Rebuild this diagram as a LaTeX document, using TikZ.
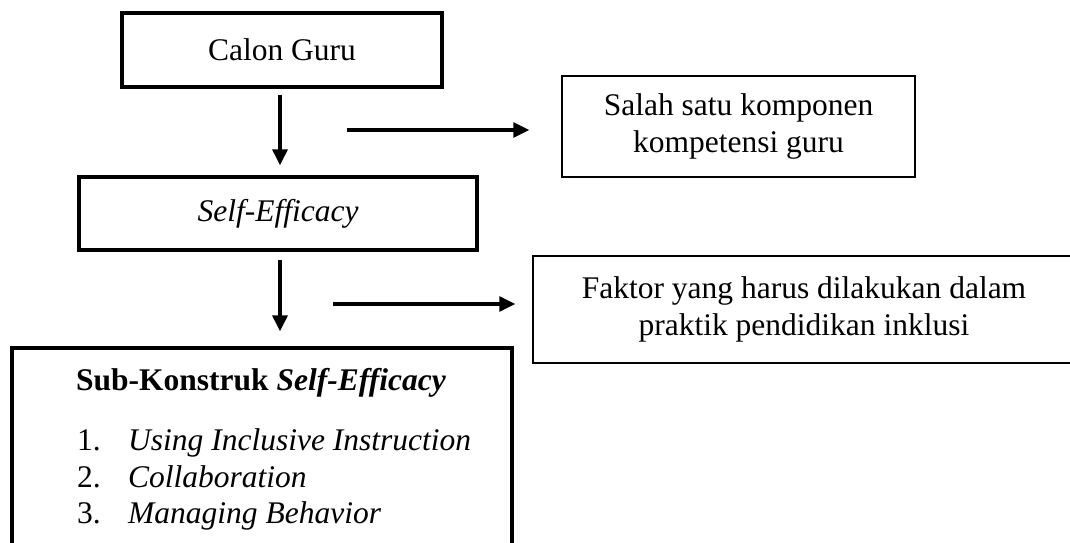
\documentclass[tikz,border=0pt]{standalone}
\usepackage{fontspec}
\setmainfont{Liberation Serif}
\usetikzlibrary{arrows.meta,calc}
\begin{document}
\begin{tikzpicture}[x=1pt,y=-1pt,
  every node/.style={font=\fontsize{31.5}{37.5}\selectfont},
  thickbox/.style={draw=black,line width=3.3pt,inner sep=0pt,align=center},
  thinbox/.style={draw=black,line width=1.5pt,inner sep=0pt,align=center},
  arr/.style={line width=3.2pt,-{Triangle[length=16pt,width=15pt]}},
  txt/.style={inner sep=0pt}]
\clip (0,0) rectangle (1070,542);
\fill[white] (0,0) rectangle (1070,542);
% boxes
\node[thickbox,minimum width=320pt,minimum height=74pt] (b1) at (282,50) {Calon Guru};
\node[thickbox,minimum width=398pt,minimum height=73pt] (b2) at (278,213.5) {\itshape Self-Efficacy};
\node[thinbox,minimum width=353pt,minimum height=101pt] (b3) at (738.5,126.5) {Salah satu komponen\\kompetensi guru};
\node[thinbox,minimum width=542pt,minimum height=107pt] (b5) at (804,309.5) {Faktor yang harus dilakukan dalam\\praktik pendidikan inklusi};
\node[thickbox,minimum width=500pt,minimum height=200pt] (b4) at (262,448) {};
% box 4 texts
\node[txt,anchor=base] (t0) at (261,390) {\textbf{Sub-Konstruk \textit{Self-Efficacy}}};
\node[txt,anchor=base west] (n1) at (77,450) {1.};
\node[txt,anchor=base west] (i1) at (128,450) {\itshape Using Inclusive Instruction};
\node[txt,anchor=base west] (n2) at (77,487) {2.};
\node[txt,anchor=base west] (i2) at (128,487) {\itshape Collaboration};
\node[txt,anchor=base west] (n3) at (77,523) {3.};
\node[txt,anchor=base west] (i3) at (128,523) {\itshape Managing Behavior};
% connectors
\draw[arr] ($(b1.south)+(-2,6)$) -- ($(b2.north)+(2,-10)$);
\draw[arr] ($(b2.south)+(2,8)$) -- ($(b4.north)+(18,-15)$);
\coordinate (h1) at (347,130);
\draw[arr] (h1) -- ($(h1 -| b3.west)+(-32,0)$);
\coordinate (h2) at (333,304);
\draw[arr] (h2) -- ($(h2 -| b5.west)+(-17,0)$);
\end{tikzpicture}
\end{document}
